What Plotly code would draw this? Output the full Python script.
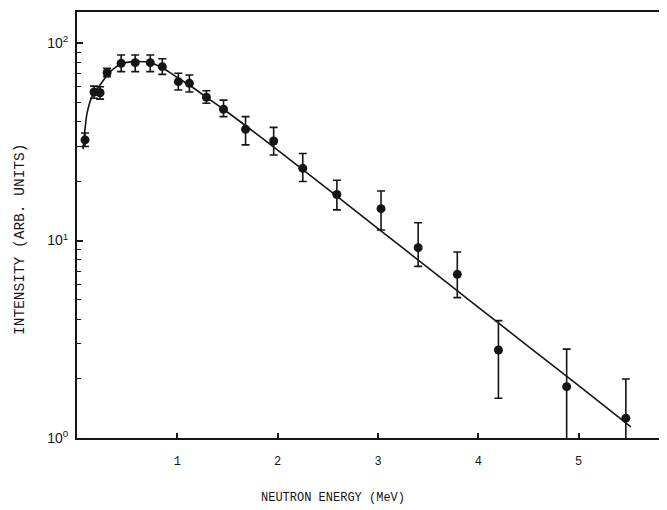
import plotly.graph_objects as go

# measured points (MeV, arbitrary units)
energy = [0.08, 0.17, 0.23, 0.30, 0.44, 0.58, 0.73, 0.85, 1.01, 1.12, 1.29, 1.46,
          1.68, 1.96, 2.25, 2.59, 3.03, 3.40, 3.79, 4.20, 4.88, 5.47]
intensity = [32.3, 56.5, 56.0, 70.7, 78.9, 79.5, 79.5, 75.9, 63.7, 62.5, 53.1, 46.2,
             36.6, 31.9, 23.2, 17.1, 14.5, 9.2, 6.74, 2.79, 1.82, 1.26]
err_plus = [2.7, 4.0, 4.0, 3.8, 8.0, 7.4, 7.4, 7.4, 6.6, 6.4, 4.2, 5.2,
            5.8, 5.5, 4.4, 3.1, 3.3, 3.1, 2.0, 1.14, 1.0, 0.73]
err_minus = [2.4, 4.0, 4.0, 3.1, 7.3, 7.9, 7.9, 6.5, 5.9, 6.0, 3.6, 3.8,
             6.1, 4.8, 3.3, 2.8, 3.2, 1.8, 1.6, 1.2, 1.0, 0.73]

# fitted curve
fit_energy = [0.06, 0.10, 0.15, 0.23, 0.33, 0.44, 0.58, 0.73, 0.86, 1.01, 1.12, 1.29,
              1.46, 2.0, 2.5, 3.0, 3.5, 4.0, 4.5, 5.0, 5.52]
fit_intensity = [29.0, 44.0, 53.5, 61.3, 71.6, 78.5, 80.5, 79.5, 74.5, 66.3, 61.3, 53.1,
                 46.2, 28.7, 18.2, 11.5, 7.26, 4.59, 2.90, 1.84, 1.14]

x_ticks = [1, 2, 3, 4, 5]
y_ticks = [1, 10, 100]
y_ticktext = ["10<sup>0</sup>", "10<sup>1</sup>", "10<sup>2</sup>"]
y_minor_ticks = [2, 3, 4, 5, 6, 7, 8, 9, 20, 30, 40, 50, 60, 70, 80, 90]

INK = "#151515"
MONO = "Liberation Mono, Courier New, monospace"
SANS = "Liberation Sans, Arial, sans-serif"

fig = go.Figure()
fig.add_trace(go.Scatter(
    x=fit_energy, y=fit_intensity, mode="lines",
    line=dict(color=INK, width=1.6, shape="spline", smoothing=0.6),
    hoverinfo="skip", showlegend=False))
fig.add_trace(go.Scatter(
    x=energy, y=intensity, mode="markers",
    marker=dict(color=INK, size=9),
    error_y=dict(type="data", symmetric=False, array=err_plus, arrayminus=err_minus,
                 color=INK, thickness=1.6, width=4),
    showlegend=False))

# the page body adds an 8px margin; the figure is sized so it fits the window
fig.update_layout(
    width=659, height=502,
    margin=dict(l=69, r=0, t=4, b=72),
    paper_bgcolor="white", plot_bgcolor="white",
    font=dict(family=MONO, color=INK, size=12),
    xaxis=dict(range=[0, 5.88], tickvals=x_ticks, ticks="inside", ticklen=5,
               tickwidth=1.5, tickcolor=INK, showline=True, linecolor=INK,
               linewidth=2, mirror=True, showgrid=False, zeroline=False,
               tickfont=dict(family=MONO, size=12), ticklabelstandoff=11),
    yaxis=dict(type="log", range=[0, 2.157], tickvals=y_ticks, ticktext=y_ticktext,
               ticks="inside", ticklen=6, tickwidth=1.5, tickcolor=INK,
               showline=True, linecolor=INK, linewidth=2, showgrid=False,
               zeroline=False, tickfont=dict(family=SANS, size=14),
               minor=dict(tickvals=y_minor_ticks, ticks="inside", ticklen=4,
                          tickwidth=1.2, tickcolor=INK, showgrid=False),
               ticklabelstandoff=4),
    annotations=[
        dict(text="NEUTRON ENERGY (MeV)", xref="paper", yref="paper",
             x=(333 - 77) / 590, y=-60 / 426, xanchor="center", yanchor="middle",
             showarrow=False, font=dict(family=MONO, size=12, color=INK)),
        dict(text="INTENSITY (ARB. UNITS)", xref="paper", yref="paper",
             x=-57 / 590, y=(438 - 240) / 426, xanchor="center", yanchor="middle",
             textangle=-90, showarrow=False,
             font=dict(family=MONO, size=14.5, color=INK)),
    ],
)

fig.write_html("out.html")
